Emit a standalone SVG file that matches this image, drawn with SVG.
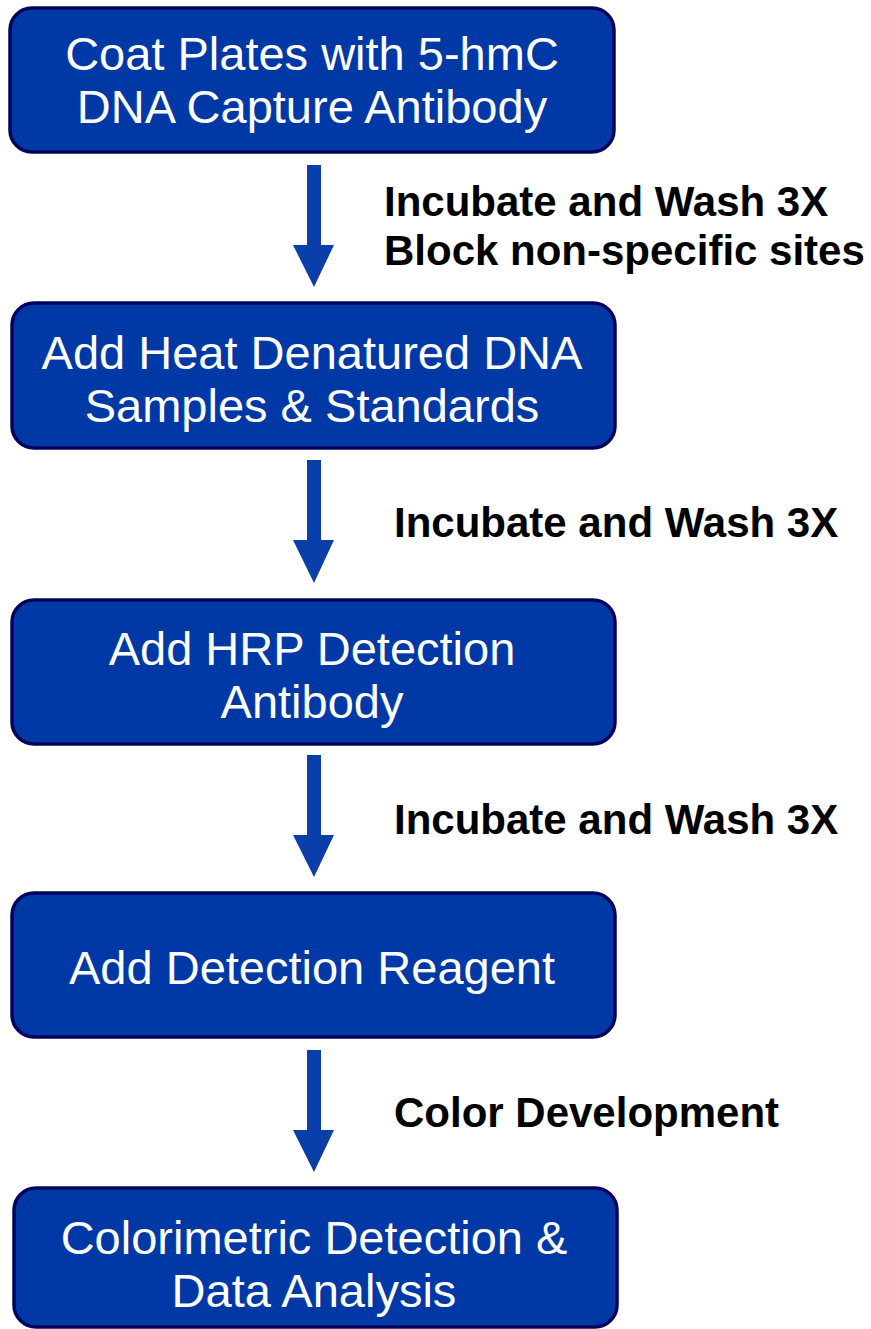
<svg xmlns="http://www.w3.org/2000/svg" width="871" height="1329" viewBox="0 0 871 1329">
<style>
.box{fill:#0039A6;stroke:#00045E;stroke-width:3.5}
.bt{font-family:"Liberation Sans",Arial,sans-serif;font-size:47px;fill:#ffffff;text-anchor:middle}
.lt{font-family:"Liberation Sans",Arial,sans-serif;font-size:42px;font-weight:bold;fill:#000000}
.arr{fill:#0A3EA8}
</style>
<rect width="871" height="1329" fill="#ffffff"/>
<g id="connectors">
<polygon class="arr" points="307,165 321,165 321,245 334,245 314,287 293,245 307,245"/>
<polygon class="arr" points="307,460 321,460 321,540 334,540 314,583 293,540 307,540"/>
<polygon class="arr" points="307,755 321,755 321,835 334,835 314,877 293,835 307,835"/>
<polygon class="arr" points="307,1050 321,1050 321,1130 334,1130 314,1172 293,1130 307,1130"/>
</g>
<g id="label1"><text class="lt" x="384" y="216">Incubate and Wash 3X</text><text class="lt" x="384" y="265">Block non-specific sites</text></g>
<g id="label2"><text class="lt" x="394" y="537">Incubate and Wash 3X</text></g>
<g id="label3"><text class="lt" x="394" y="834">Incubate and Wash 3X</text></g>
<g id="label4"><text class="lt" x="394" y="1127">Color Development</text></g>
<g id="node1"><rect class="box" x="10" y="8" width="604" height="144" rx="22"/><text class="bt" x="312" y="70">Coat Plates with 5-hmC</text><text class="bt" x="312" y="123">DNA Capture Antibody</text></g>
<g id="node2"><rect class="box" x="12" y="303" width="603" height="145" rx="22"/><text class="bt" x="312" y="369">Add Heat Denatured DNA</text><text class="bt" x="312" y="422">Samples &amp; Standards</text></g>
<g id="node3"><rect class="box" x="12" y="600" width="603" height="144" rx="22"/><text class="bt" x="312" y="665">Add HRP Detection</text><text class="bt" x="312" y="718">Antibody</text></g>
<g id="node4"><rect class="box" x="12" y="893" width="603" height="144" rx="22"/><text class="bt" x="312" y="984">Add Detection Reagent</text></g>
<g id="node5"><rect class="box" x="14" y="1188" width="603" height="139" rx="22"/><text class="bt" x="314" y="1254">Colorimetric Detection &amp;</text><text class="bt" x="314" y="1307">Data Analysis</text></g>
</svg>
